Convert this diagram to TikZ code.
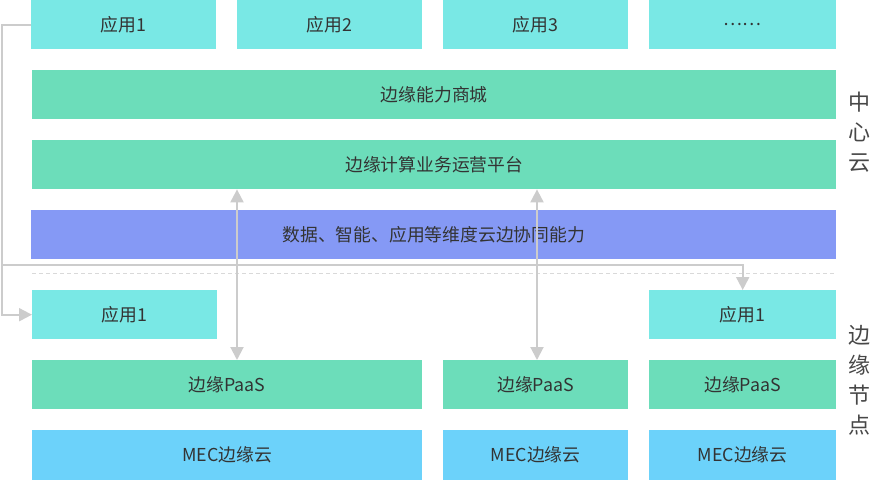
\documentclass[tikz,border=0pt]{standalone}
\usepackage{fontspec}
\setmainfont{Noto Sans CJK SC}
\usetikzlibrary{arrows.meta}
\definecolor{appcyan}{HTML}{79E8E5}
\definecolor{svcgreen}{HTML}{6CDDBA}
\definecolor{collabblue}{HTML}{8599F5}
\definecolor{mecblue}{HTML}{6CD2FA}
\definecolor{linkgray}{HTML}{CCCCCC}
\definecolor{sepgray}{HTML}{D9D9D9}
\definecolor{txtgray}{HTML}{333333}

\begin{document}
\begin{tikzpicture}[x=1pt,y=-1pt,
  box/.style={anchor=north west,inner sep=0pt,minimum height=49pt,text=txtgray,font=\fontsize{17.8}{21}\selectfont},
  layer/.style={text=txtgray!90,font=\fontsize{22}{30}\selectfont,align=center},
  link/.style={draw=linkgray,line width=2pt},
  tip/.style={-{Triangle[length=13pt,width=13pt]}},
  tips/.style={{Triangle[length=13pt,width=13pt]}-{Triangle[length=13pt,width=13pt]}}]
  \useasboundingbox (0,0) rectangle (876,480);
  % central cloud applications
  \node[box,fill=appcyan,minimum width=185pt] (app1) at (31,0) {应用1};
  \node[box,fill=appcyan,minimum width=185pt] (app2) at (237,0) {应用2};
  \node[box,fill=appcyan,minimum width=185pt] (app3) at (443,0) {应用3};
  \node[box,fill=appcyan,minimum width=187pt] (app4) at (649,0) {……};
  % central cloud platform
  \node[box,fill=svcgreen,minimum width=804pt] (mall) at (32,70) {边缘能力商城};
  \node[box,fill=svcgreen,minimum width=804pt] (ops) at (32,140) {边缘计算业务运营平台};
  \node[box,fill=collabblue,minimum width=805pt] (collab) at (31,210) {数据、智能、应用等维度云边协同能力};
  % separator
  \draw[sepgray,line width=1pt,dash pattern=on 4pt off 3pt] (32,273) -- (836,273);
  % edge nodes
  \node[box,fill=appcyan,minimum width=185pt] (eapp1) at (32,290) {应用1};
  \node[box,fill=appcyan,minimum width=187pt] (eapp3) at (649,290) {应用1};
  \node[box,fill=svcgreen,minimum width=390pt] (paas1) at (32,360) {边缘PaaS};
  \node[box,fill=svcgreen,minimum width=185pt] (paas2) at (443,360) {边缘PaaS};
  \node[box,fill=svcgreen,minimum width=187pt] (paas3) at (649,360) {边缘PaaS};
  \node[box,fill=mecblue,minimum width=390pt,minimum height=50pt] (mec1) at (32,430) {MEC边缘云};
  \node[box,fill=mecblue,minimum width=185pt,minimum height=50pt] (mec2) at (443,430) {MEC边缘云};
  \node[box,fill=mecblue,minimum width=187pt,minimum height=50pt] (mec3) at (649,430) {MEC边缘云};
  % layer labels
  \node[layer] (center) at (859,132) {中\\心\\云};
  \node[layer] (edge) at (859,380) {边\\缘\\节\\点};
  % app delivery to edge
  \draw[link,tip] (app1.west) -- ++(-29,0) |- (eapp1.west);
  \coordinate (fork) at (2,265);
  \draw[link,tip] (fork) -| (eapp3.north);
  % platform <-> edge PaaS
  \coordinate (busL) at (237,0);
  \coordinate (busR) at (537,0);
  \draw[link,tips] (busL |- ops.south) -- (busL |- paas1.north);
  \draw[link,tips] (busR |- ops.south) -- (busR |- paas2.north);
\end{tikzpicture}
\end{document}
